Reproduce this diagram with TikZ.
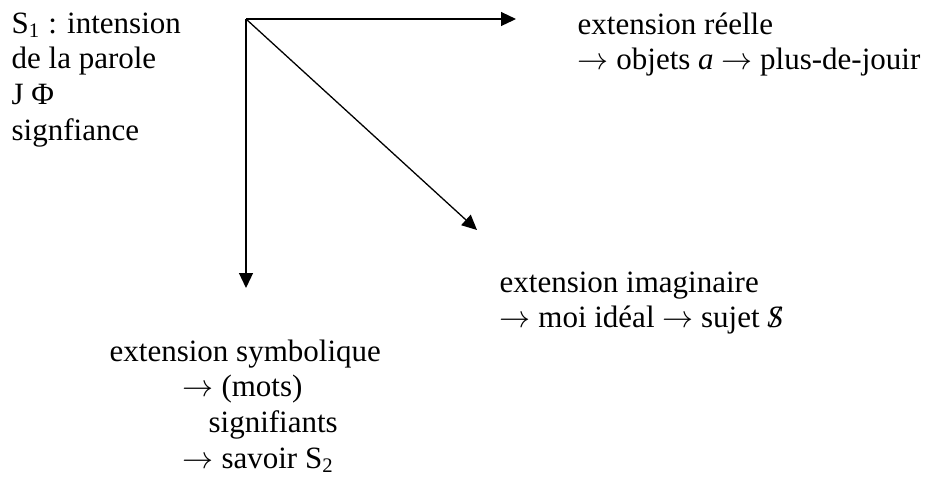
\documentclass[tikz,border=0pt]{standalone}
\usepackage{fontspec}
\setmainfont{Liberation Serif}
\usetikzlibrary{arrows.meta}
\tikzset{>={Triangle[length=5.8pt,width=5.4pt]}}
\newcommand{\barredS}{\ooalign{\itshape S\cr\hidewidth\itshape /\hidewidth\cr}}
\newcommand{\ar}{$\rightarrow$}

\begin{document}
\begin{tikzpicture}[x=0.3871pt, y=-0.3871pt, line width=0.5pt,
    every node/.style={inner sep=0pt, anchor=north west, align=left,
      font=\fontsize{12}{13.8}\selectfont, execute at begin node=\strut}]
    \useasboundingbox (0,0) rectangle (936,482);

    % Origin and arrow ends
    \coordinate (O) at (246,19);
    \coordinate (REEL) at (516,19);
    \coordinate (IMAG) at (477,230);
    \coordinate (SYMB) at (246,288);

    % Labels
    \node (INT) at (11,12) {S\textsubscript{1} : intension\\de la parole\\J Φ\\signfiance};
    \node (RE) at (577,12) {extension réelle\\\ar{} objets \textit{a} \ar{} plus-de-jouir};
    \node (IM) at (499,271) {extension imaginaire\\\ar{} moi idéal \ar{} sujet \barredS};
    \node (SY) at (109,339) {extension symbolique\\
      \hspace*{28.3pt}\ar{} (mots)\\
      \hspace*{38.3pt}signifiants\\
      \hspace*{28.3pt}\ar{} savoir S\textsubscript{2}};

    % Arrows
    \draw[->] (O) -- (REEL);
    \draw[->] (O) -- (IMAG);
    \draw[->] (O) -- (SYMB);
\end{tikzpicture}
\end{document}
